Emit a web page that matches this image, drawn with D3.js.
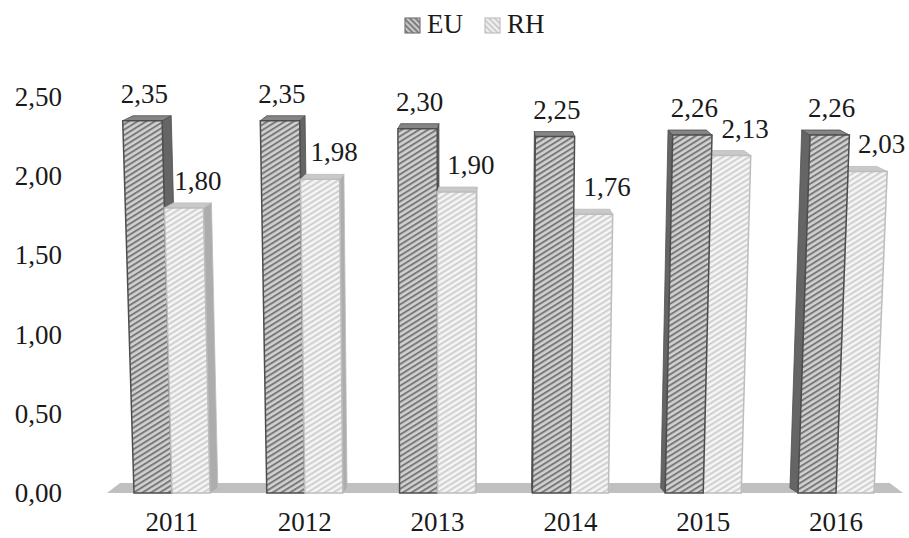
<!DOCTYPE html>
<html>
<head>
<meta charset="utf-8">
<script src="https://cdn.jsdelivr.net/npm/d3@7"></script>
<style>
  body { margin: 0; background: #fff; }
  svg text { font-family: "Liberation Serif", "Times New Roman", serif; fill: #1a1a1a; }
</style>
</head>
<body>
<div id="chart"></div>
<script>
// chart data
const years = ["2011", "2012", "2013", "2014", "2015", "2016"];
const seriesNames = ["EU", "RH"];
const euValues = [2.35, 2.35, 2.30, 2.25, 2.26, 2.26];
const rhValues = [1.80, 1.98, 1.90, 1.76, 2.13, 2.03];
const yTicks = [0, 0.5, 1, 1.5, 2, 2.5];

const width = 909, height = 538;

const svg = d3.select("#chart")
    .append("svg")
    .attr("width", width)
    .attr("height", height);

const locale = d3.formatLocale({ decimal: ",", thousands: ".", grouping: [3], currency: ["", ""] });
const fmt = locale.format(".2f");

// scales
const x = d3.scalePoint().domain(years).range([172, 836]);
const xs = d3.scaleBand().domain(seriesNames).range([-38, 38]);
const y = d3.scaleLinear().domain([0, 2.5]).range([493, 97]);

// slight 3d perspective like the original office chart
const X0 = 448, KP = 0.0000965, Y0 = y(0);
function proj(px, py) { return [X0 + (px - X0) * (1 + KP * (Y0 - py)), py]; }
function back(p, depth = 5, k = 0.027) {
    return [p[0] + (500 - p[0]) * k * depth / 5, p[1] - depth];
}
const poly = pts => "M" + pts.map(p => p.join(",")).join("L") + "Z";

// hatch patterns
const defs = svg.append("defs");
function hatch(id, bg, fg, angle, size, sw) {
    const p = defs.append("pattern")
        .attr("id", id)
        .attr("patternUnits", "userSpaceOnUse")
        .attr("width", 8).attr("height", size)
        .attr("patternTransform", `rotate(${angle})`);
    p.append("rect").attr("width", 8).attr("height", size).attr("fill", bg);
    p.append("rect").attr("y", 0).attr("width", 8).attr("height", sw).attr("fill", fg);
}
hatch("hatchEU", "#d2d2d2", "#7a7a7a", -32, 4.6, 2);
hatch("hatchRH", "#f5f5f5", "#d0d0d0", -32, 4.6, 2);
hatch("legEU", "#c8c8c8", "#6e6e6e", 45, 4, 1.6);
hatch("legRH", "#f0f0f0", "#c4c4c4", 45, 4, 1.6);

const style = {
    EU: { front: "url(#hatchEU)", stroke: "#4e4e4e", top: "#858585", side: "#656565" },
    RH: { front: "url(#hatchRH)", stroke: "#bdbdbd", top: "#c9c9c9", side: "#adadad" }
};

// floor
const fx0 = x(years[0]) - 65, fx1 = x(years[years.length - 1]) + 67;
const fA = [fx0, Y0], fB = [fx1, Y0];
svg.append("path")
    .attr("d", poly([fA, fB, back(fB, 10, 0.0165), back(fA, 10, 0.0165)]))
    .attr("fill", "#c0c0c0");

// bars
const bars = [];
years.forEach((yr, i) => {
    const vals = { EU: euValues[i], RH: rhValues[i] };
    const group = seriesNames.map(s => {
        const x0 = x(yr) + xs(s), x1 = x0 + xs.bandwidth();
        return { year: yr, series: s, value: vals[s], x0, x1 };
    });
    // farther from the view centre drawn first
    group.sort((a, b) => Math.abs((b.x0 + b.x1) / 2 - 500) - Math.abs((a.x0 + a.x1) / 2 - 500));
    bars.push(...group);
});

const gBars = svg.append("g");
bars.forEach(d => {
    const st = style[d.series];
    const yv = y(d.value);
    const A = proj(d.x0, Y0), B = proj(d.x1, Y0), C = proj(d.x1, yv), D = proj(d.x0, yv);
    const shift = back(C)[0] - C[0];
    const side = shift > 0 ? [B, C, back(C), back(B)] : [A, D, back(D), back(A)];
    gBars.append("path").attr("d", poly(side))
        .attr("fill", st.side).attr("stroke", st.stroke).attr("stroke-width", 0.8);
    gBars.append("path").attr("d", poly([D, C, back(C), back(D)]))
        .attr("fill", st.top).attr("stroke", st.stroke).attr("stroke-width", 0.8);
    gBars.append("path").attr("d", poly([A, B, C, D]))
        .attr("fill", st.front).attr("stroke", st.stroke).attr("stroke-width", 1.5);
});

// data labels
const labelShift = { EU: 2, RH: 14 };
bars.forEach(d => {
    const yv = y(d.value);
    const C = proj(d.x1, yv), D = proj(d.x0, yv);
    svg.append("text")
        .attr("x", (C[0] + D[0]) / 2 + labelShift[d.series])
        .attr("y", yv - 18)
        .attr("text-anchor", "middle")
        .attr("font-size", 27)
        .text(fmt(d.value));
});

// y axis labels (no line, no ticks)
svg.append("g")
    .selectAll("text")
    .data(yTicks)
    .join("text")
    .attr("x", 62)
    .attr("y", d => y(d) + 9)
    .attr("text-anchor", "end")
    .attr("font-size", 27)
    .text(d => fmt(d));

// x axis labels
svg.append("g")
    .selectAll("text")
    .data(years)
    .join("text")
    .attr("x", d => x(d))
    .attr("y", 531)
    .attr("text-anchor", "middle")
    .attr("font-size", 27)
    .text(d => d);

// legend
const legend = svg.append("g").attr("transform", "translate(405,18)");
const legItems = [
    { name: "EU", fill: "url(#legEU)", stroke: "#777", dx: 0 },
    { name: "RH", fill: "url(#legRH)", stroke: "#c0c0c0", dx: 80 }
];
legItems.forEach(it => {
    legend.append("rect")
        .attr("x", it.dx).attr("y", 0)
        .attr("width", 15).attr("height", 15)
        .attr("fill", it.fill).attr("stroke", it.stroke).attr("stroke-width", 1.2);
    legend.append("text")
        .attr("x", it.dx + 22).attr("y", 15)
        .attr("font-size", 27)
        .text(it.name);
});
</script>
</body>
</html>
